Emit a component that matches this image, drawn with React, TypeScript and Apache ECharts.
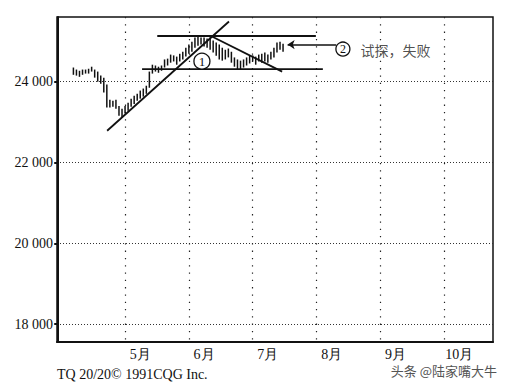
import React, { useEffect, useRef } from 'react';
import * as echarts from 'echarts';

// trading-day index of first bar
const startIndex = 5;
const highs = [
  24350, 24300, 24270, 24300, 24300, 24320, 24370, 24300, 24250, 24150,
  24100, 23930, 23550, 23530, 23550, 23400, 23330, 23400, 23480, 23580,
  23650, 23700, 23780, 23830, 23900, 24250, 24420, 24400, 24370, 24400,
  24550, 24570, 24670, 24650, 24620, 24690, 24740, 24840, 24920, 24990,
  25090, 25120, 25090, 25090, 25070, 25090, 25020, 24970, 24920, 24840,
  24790, 24820, 24740, 24600, 24550, 24520, 24550, 24600, 24650, 24650,
  24620, 24670, 24690, 24720, 24670, 24740, 24840, 24970, 24990, 24940,
];
const lows = [
  24170, 24150, 24120, 24170, 24200, 24200, 24250, 24100, 24000, 23950,
  23730, 23360, 23360, 23380, 23330, 23160, 23110, 23210, 23280, 23380,
  23450, 23530, 23580, 23630, 23700, 23850, 24200, 24250, 24220, 24270,
  24350, 24400, 24470, 24500, 24420, 24500, 24550, 24620, 24690, 24740,
  24840, 24890, 24920, 24870, 24840, 24790, 24720, 24640, 24550, 24520,
  24550, 24600, 24470, 24370, 24300, 24300, 24350, 24400, 24450, 24500,
  24420, 24500, 24470, 24500, 24470, 24550, 24600, 24720, 24790, 24740,
];
const yTicks = [18000, 20000, 22000, 24000];
const monthStart = [22, 43, 64, 85, 106, 127];
const monthLabels = ['5月', '6月', '7月', '8月', '9月', '10月'];

const upTrend = [[16.1, 22785], [56.2, 25488]];
const downTrend = [[50.6, 25116], [73.7, 24248]];
const resistance = [[32.6, 25130], [84.8, 25130]];
const support = [[27.6, 24310], [87.1, 24310]];
const circleOne = [47.3, 24508];
const circleTwo = [93.7, 24806];
const noteAnchor = [99.3, 24794];
const arrowFrom = [91.5, 24918];
const arrowTo = [75.5, 24918];
const noteText = '试探，失败';
const footerText = 'TQ 20/20© 1991CQG Inc.';
const watermarkText = '头条 @陆家嘴大牛';

const serif = 'Liberation Serif';
const ink = '#111';

export default function App() {
  const ref = useRef<HTMLDivElement>(null);
  useEffect(() => {
    document.body.style.margin = '0';
    const chart = echarts.init(ref.current!, null, { renderer: 'svg' });
    const bars = highs.map((h, k) => [startIndex + k, h, lows[k]]);
    const labelPos = monthStart.map((m) => m + 5);
    const trend = (data: number[][]) => ({
      type: 'line',
      data,
      symbol: 'none',
      silent: true,
      lineStyle: { color: ink, width: 1.8 },
      z: 3,
    });
    chart.setOption({
      animation: false,
      backgroundColor: '#fff',
      grid: { left: 57, right: 18, top: 17, bottom: 45, show: true, borderColor: ink, borderWidth: 1.5 },
      xAxis: {
        type: 'value',
        min: -0.4,
        max: 143.1,
        axisLine: { show: true, lineStyle: { color: ink, width: 2 } },
        axisTick: { show: false, customValues: monthStart },
        splitLine: { show: true, lineStyle: { color: '#222', type: [1.3, 6], width: 1.2 } },
        axisLabel: {
          customValues: labelPos,
          formatter: (v: number) => {
            const i = labelPos.indexOf(Math.round(v));
            return i >= 0 ? monthLabels[i] : '';
          },
          margin: 5,
          color: ink,
          fontSize: 14,
          fontFamily: serif,
        },
      },
      yAxis: {
        type: 'value',
        min: 17560,
        max: 25600,
        axisLine: { show: true, lineStyle: { color: ink, width: 2 } },
        axisTick: { show: true, customValues: yTicks, length: 4, lineStyle: { width: 2, color: ink } },
        splitLine: { show: true, lineStyle: { color: '#333', type: [1, 2], width: 1 } },
        axisLabel: {
          customValues: yTicks,
          formatter: (v: number) => `${Math.floor(v / 1000)} ${String(v % 1000).padStart(3, '0')}`,
          margin: 4,
          color: ink,
          fontSize: 14,
          fontFamily: serif,
        },
      },
      series: [
        {
          type: 'custom',
          data: bars,
          encode: { x: 0, y: [1, 2] },
          silent: true,
          z: 2,
          renderItem: (params: any, api: any) => {
            const x = api.value(0);
            const p1 = api.coord([x, api.value(1)]);
            const p2 = api.coord([x, api.value(2)]);
            return {
              type: 'line',
              shape: { x1: p1[0], y1: p1[1], x2: p2[0], y2: p2[1] },
              style: { stroke: ink, lineWidth: 1.5 },
            };
          },
        },
        trend(upTrend),
        trend(downTrend),
        trend(resistance),
        trend(support),
        {
          type: 'scatter',
          data: [circleOne],
          symbol: 'circle',
          symbolSize: 16,
          silent: true,
          z: 5,
          itemStyle: { color: '#fff', borderColor: ink, borderWidth: 1.3, opacity: 1 },
          label: { show: true, position: 'inside', formatter: '1', color: ink, fontSize: 13, fontFamily: serif },
        },
        {
          type: 'scatter',
          data: [circleTwo],
          symbol: 'circle',
          symbolSize: 14,
          silent: true,
          z: 5,
          itemStyle: { color: '#fff', borderColor: ink, borderWidth: 1.3, opacity: 1 },
          label: { show: true, position: 'inside', formatter: '2', color: ink, fontSize: 12, fontFamily: serif },
        },
        {
          type: 'scatter',
          data: [noteAnchor],
          symbolSize: 1,
          silent: true,
          z: 5,
          itemStyle: { color: 'rgba(0,0,0,0)' },
          label: {
            show: true,
            position: 'right',
            distance: 0,
            formatter: noteText,
            color: '#222',
            fontSize: 14,
            fontFamily: 'Noto Sans CJK SC',
          },
          markLine: {
            silent: true,
            symbol: ['none', 'arrow'],
            symbolSize: 7,
            label: { show: false },
            lineStyle: { color: ink, width: 1.5, type: 'solid' },
            data: [[{ coord: arrowFrom }, { coord: arrowTo }]],
          },
        },
      ],
      graphic: [
        {
          type: 'text',
          left: 57,
          top: 367,
          style: { text: footerText, fill: ink, font: `14px "${serif}"` },
        },
        {
          type: 'text',
          right: 14,
          top: 364,
          style: { text: watermarkText, fill: '#555', font: '13px "Noto Sans CJK SC"' },
        },
      ],
    });
    return () => chart.dispose();
  }, []);
  return <div ref={ref} style={{ width: 511, height: 387 }} />;
}
